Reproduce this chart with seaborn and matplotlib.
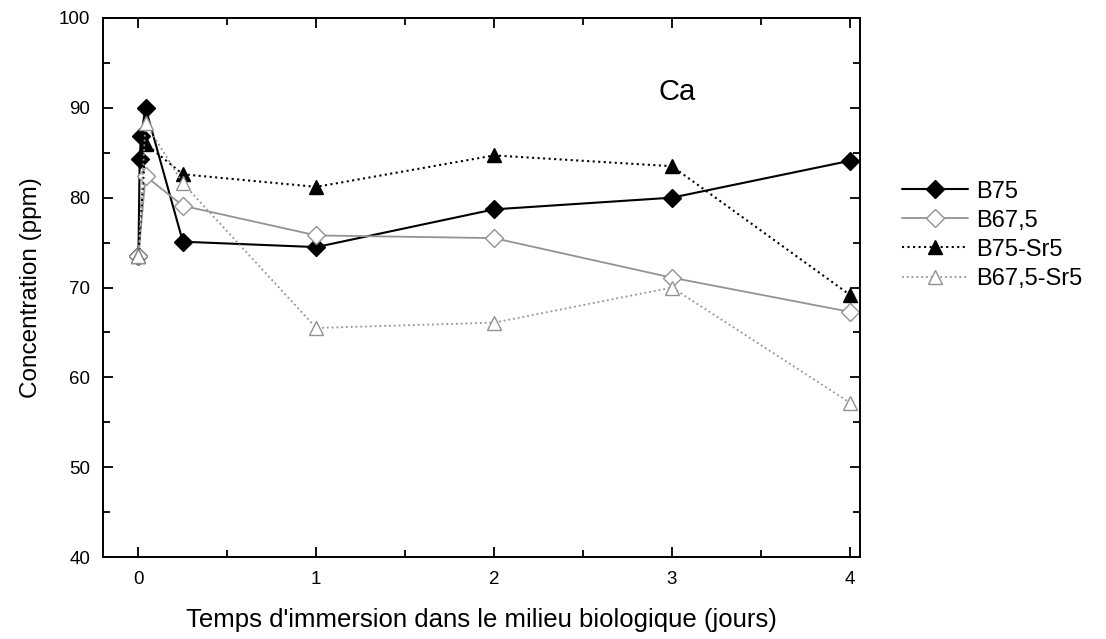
import matplotlib.pyplot as plt
from matplotlib.ticker import MultipleLocator
import seaborn as sns
import pandas as pd

sns.set_style('ticks', {'axes.edgecolor': 'black', 'text.color': 'black',
                        'axes.labelcolor': 'black', 'xtick.color': 'black', 'ytick.color': 'black'})
plt.rcParams['font.family'] = ['Liberation Sans', 'DejaVu Sans']

# Immersion time (days) and Ca concentration (ppm)
t_b75 = [0, 0.007, 0.015, 0.04, 0.25, 1, 2, 3, 4]
ca_b75 = [73.5, 84.3, 86.9, 90.0, 75.1, 74.5, 78.7, 80.0, 84.1]

t_b675 = [0, 0.04, 0.25, 1, 2, 3, 4]
ca_b675 = [73.5, 82.4, 79.1, 75.8, 75.5, 71.1, 67.3]

t_b75sr = [0, 0.04, 0.25, 1, 2, 3, 4]
ca_b75sr = [73.5, 86.0, 82.6, 81.2, 84.7, 83.5, 69.2]

t_b675sr = [0, 0.04, 0.25, 1, 2, 3, 4]
ca_b675sr = [73.5, 88.3, 81.6, 65.5, 66.1, 70.0, 57.2]

series = [
    ('B75', t_b75, ca_b75, 'black', '-', 'D', 'black', 1.5),
    ('B67,5', t_b675, ca_b675, '#939393', '-', 'D', 'white', 1.3),
    ('B75-Sr5', t_b75sr, ca_b75sr, 'black', ':', '^', 'black', 1.5),
    ('B67,5-Sr5', t_b675sr, ca_b675sr, '#939393', ':', '^', 'white', 1.3),
]

fig = plt.figure(figsize=(11.06, 6.39), dpi=100)
ax = fig.add_axes([0.093, 0.128, 0.685, 0.844])

for name, t, c, col, ls, mk, fc, lw in series:
    df = pd.DataFrame({'t': t, 'ca': c})
    sns.lineplot(data=df, x='t', y='ca', ax=ax, color=col, linestyle=ls,
                 linewidth=lw, marker=mk, markersize=9.5 if mk == 'D' else 10,
                 markerfacecolor=fc, markeredgecolor=col, markeredgewidth=1.0,
                 label=name, sort=False)

ax.set_xlim(-0.2, 4.06)
ax.set_ylim(40, 100)
ax.xaxis.set_major_locator(MultipleLocator(1))
ax.xaxis.set_minor_locator(MultipleLocator(0.5))
ax.yaxis.set_major_locator(MultipleLocator(10))
ax.yaxis.set_minor_locator(MultipleLocator(5))
ax.tick_params(which='both', direction='in', top=True, right=True, labelsize=13.5, width=1.3,
               colors='black')
ax.tick_params(which='major', length=7.5)
ax.tick_params(which='minor', length=5)
ax.tick_params(axis='x', pad=10)
ax.tick_params(axis='y', pad=9)
for s in ax.spines.values():
    s.set_linewidth(1.4)
    s.set_color('black')

ax.set_xlabel("Temps d'immersion dans le milieu biologique (jours)", fontsize=18.5, labelpad=14)
ax.set_ylabel('Concentration (ppm)', fontsize=17.5, labelpad=12)
ax.text(3.03, 91.8, 'Ca', fontsize=21, ha='center', va='center')

ax.legend(loc='center left', bbox_to_anchor=(902 / 1106, 0.632), bbox_transform=fig.transFigure,
          frameon=False, borderpad=0, borderaxespad=0,
          fontsize=17, handlelength=2.8, handletextpad=0.35, labelspacing=0.3)

plt.savefig('out.png', dpi=100)
